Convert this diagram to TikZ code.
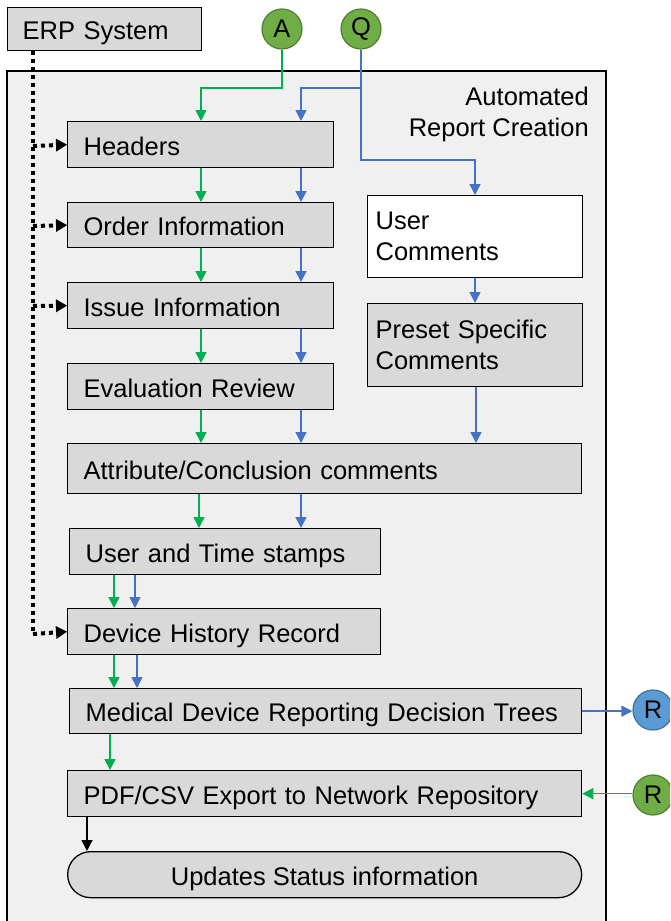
\documentclass[tikz,border=0pt]{standalone}
\usepackage{fontspec}
\setmainfont{Liberation Sans}
\usetikzlibrary{arrows.meta}
\definecolor{boxgray}{HTML}{D9D9D9}
\definecolor{bggray}{HTML}{F0F0F0}
\definecolor{lgreen}{HTML}{00B050}
\definecolor{lblue}{HTML}{4472C4}
\definecolor{cgreen}{HTML}{70AD47}
\definecolor{cgreenb}{HTML}{507E32}
\definecolor{cblue}{HTML}{5B9BD5}
\definecolor{cblueb}{HTML}{41719C}
\newcommand{\fs}{\fontsize{25.5}{31}\selectfont}
\tikzset{
  box/.style={draw=black, fill=boxgray, line width=1.3pt, inner sep=0pt, font=\fs, align=left, anchor=north west},
  oneline/.style={text height=21.5pt, text depth=0pt},
  circ/.style={circle, draw, line width=1.2pt, minimum size=40pt, inner sep=0pt, font=\fs},
  garrow/.style={draw=lgreen, line width=1.5pt, -{Triangle[width=11pt,length=11pt]}},
  barrow/.style={draw=lblue, line width=1.5pt, -{Triangle[width=11pt,length=11pt]}},
  karrow/.style={draw=black, line width=1.5pt, -{Triangle[width=11pt,length=11pt]}},
  dotarrow/.style={draw=black, line width=4pt, dash pattern=on 4pt off 4pt, -{Triangle[width=13pt,length=11pt,line width=0pt]}},
  dotline/.style={draw=black, line width=4pt, dash pattern=on 4pt off 4pt},
}
\begin{document}
\begin{tikzpicture}[x=1pt,y=-1pt]
\useasboundingbox (0,0) rectangle (670,921);
\clip (0,0) rectangle (670,921);
% container
\path[draw=black, fill=bggray, line width=1.3pt] (7,71) rectangle (606,940);
\node[font=\fs, align=right, anchor=north east, inner sep=0pt] (title) at (589,87) {Automated\\Report Creation};
% top nodes
\node[box, oneline, minimum width=194pt, minimum height=43pt, text width=164pt] (erp) at (7,7) {ERP System};
\node[circ, fill=cgreen, draw=cgreenb] (A) at (282,29) {A};
\node[circ, fill=cgreen, draw=cgreenb] (Q) at (361,29) {Q};
% main boxes
\node[box, oneline, minimum width=266pt, minimum height=46pt, text width=234pt] (hdr) at (67,121) {Headers};
\node[box, oneline, minimum width=266pt, minimum height=45pt, text width=234pt] (ord) at (67,202) {Order Information};
\node[box, oneline, minimum width=266pt, minimum height=46pt, text width=234pt] (iss) at (67,282) {Issue Information};
\node[box, oneline, minimum width=266pt, minimum height=46pt, text width=234pt] (eva) at (67,363) {Evaluation Review};
\node[box, oneline, minimum width=514pt, minimum height=50pt, text width=482pt] (att) at (67,443) {Attribute/Conclusion comments};
\node[box, oneline, minimum width=311pt, minimum height=46pt, text width=279pt] (uts) at (69,528) {User and Time stamps};
\node[box, oneline, minimum width=313pt, minimum height=46pt, text width=281pt] (dhr) at (67,608) {Device History Record};
\node[box, oneline, minimum width=512pt, minimum height=45pt, text width=480pt] (mdr) at (69,688) {Medical Device Reporting Decision Trees};
\node[box, oneline, minimum width=514pt, minimum height=46pt, text width=482pt] (pdf) at (67,770) {PDF/CSV Export to Network Repository};
\node[box, oneline, minimum width=514pt, minimum height=46pt, rounded corners=23pt, align=center] (upd) at (67,851) {Updates Status information};
\node[box, fill=white, minimum width=215pt, minimum height=82pt, text width=199pt] (ucm) at (367,195) {User\\Comments};
\node[box, minimum width=215pt, minimum height=83pt, text width=199pt] (psc) at (367,303) {Preset Specific\\Comments};
% right circles
\node[circ, fill=cblue, draw=cblueb] (R1) at (653,710) {R};
\node[circ, fill=cgreen, draw=cgreenb] (R2) at (653,795) {R};
% A and Q connectors
\draw[garrow] (A.south) |- (201,88) -- (hdr.north -| 201,0);
\draw[barrow] (Q.south) |- (301,88) -- (hdr.north -| 301,0);
\draw[barrow] (361,88) |- (475,160) -- (ucm.north -| 475,0);
% chain arrows
\foreach \a/\b in {hdr/ord, ord/iss, iss/eva, eva/att} {
  \draw[garrow] (\a.south -| 201,0) -- (\b.north -| 201,0);
  \draw[barrow] (\a.south -| 301,0) -- (\b.north -| 301,0);
}
\draw[garrow] (att.south -| 199,0) -- (uts.north -| 199,0);
\draw[barrow] (att.south -| 301,0) -- (uts.north -| 301,0);
\draw[garrow] (uts.south -| 114,0) -- (dhr.north -| 114,0);
\draw[barrow] (uts.south -| 135,0) -- (dhr.north -| 135,0);
\draw[garrow] (dhr.south -| 114,0) -- (mdr.north -| 114,0);
\draw[barrow] (dhr.south -| 137,0) -- (mdr.north -| 137,0);
\draw[garrow] (mdr.south -| 110,0) -- (pdf.north -| 110,0);
\draw[karrow] (pdf.south -| 87,0) -- (upd.north -| 87,0);
\draw[barrow] (ucm.south -| 475,0) -- (psc.north -| 475,0);
\draw[barrow] (psc.south -| 476,0) -- (att.north -| 476,0);
\draw[barrow] (mdr.east) -- (mdr.east -| R1.west);
\draw[garrow] (pdf.east -| R2.west) -- (pdf.east);
% ERP dotted
\draw[dotline] (erp.south -| 33,0) -- (33,634);
\draw[dotarrow] (33,634) -- (dhr.west);
\draw[dotarrow] (33,146) -- (hdr.west);
\draw[dotarrow] (33,226) -- (ord.west);
\draw[dotarrow] (33,306) -- (iss.west);
\end{tikzpicture}
\end{document}
